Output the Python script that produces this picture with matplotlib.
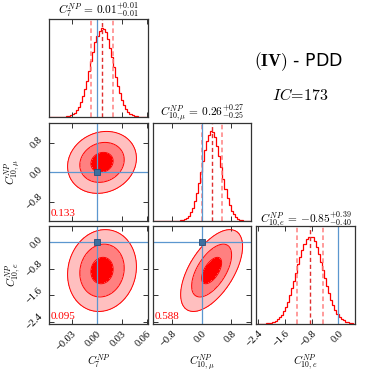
import numpy as np
import matplotlib
matplotlib.use("Agg")
import matplotlib.pyplot as plt

plt.rcParams['mathtext.fontset'] = 'cm'
plt.rcParams['font.family'] = ['Liberation Serif', 'DejaVu Serif']

# parameter names, medians and errors (from the titles)
names = [r"C_7^{NP}", r"C_{10,\mu}^{NP}", r"C_{10,e}^{NP}"]
medians = [0.0065, 0.265, -0.85]
err_up = [0.0135, 0.27, 0.39]
err_dn = [0.0130, 0.25, 0.40]
title_vals = ["0.01^{+0.01}_{-0.01}", "0.26^{+0.27}_{-0.25}", "{-}0.85^{+0.39}_{-0.40}"]
sigmas = [0.0133, 0.27, 0.40]
# correlations shown in the 2D panels: (row, col) -> rho
corr = {(1, 0): 0.133, (2, 0): 0.095, (2, 1): 0.588}

limits = [(-0.057, 0.0616), (-1.32, 1.33), (-2.47, 0.50)]
ticks = [[-0.03, 0.0, 0.03, 0.06], [-0.8, 0.0, 0.8], [-2.4, -1.6, -0.8, 0.0]]
tick_fmt = ["{:.2f}", "{:.1f}", "{:.1f}"]
hist_top = [1.10, 1.09, 1.12]

# histogram heights (normalised to peak), 48 bins spanning each axis range
h_c7 = [0.000, 0.000, 0.000, 0.000, 0.001, 0.001, 0.002, 0.004, 0.006, 0.011,
        0.019, 0.030, 0.050, 0.078, 0.115, 0.166, 0.232, 0.312, 0.408, 0.511,
        0.626, 0.728, 0.837, 0.912, 0.968, 1.000, 0.984, 0.952, 0.874, 0.780,
        0.673, 0.560, 0.452, 0.352, 0.265, 0.192, 0.135, 0.091, 0.059, 0.037,
        0.023, 0.013, 0.008, 0.004, 0.002, 0.001, 0.000, 0.000]
h_c10mu = [0.000, 0.000, 0.000, 0.000, 0.000, 0.000, 0.000, 0.000, 0.000, 0.000,
           0.001, 0.002, 0.004, 0.007, 0.012, 0.020, 0.036, 0.059, 0.095, 0.147,
           0.220, 0.310, 0.418, 0.542, 0.670, 0.792, 0.895, 0.960, 1.000, 0.985,
           0.931, 0.839, 0.724, 0.596, 0.470, 0.354, 0.256, 0.176, 0.115, 0.073,
           0.044, 0.025, 0.014, 0.007, 0.004, 0.002, 0.001, 0.000]
h_c10e = [0.000, 0.001, 0.001, 0.002, 0.004, 0.006, 0.010, 0.015, 0.024, 0.036,
          0.053, 0.076, 0.107, 0.146, 0.196, 0.256, 0.326, 0.406, 0.494, 0.587,
          0.681, 0.770, 0.851, 0.919, 0.967, 0.995, 0.990, 0.995, 0.950, 0.875,
          0.798, 0.711, 0.619, 0.525, 0.435, 0.352, 0.278, 0.214, 0.161, 0.119,
          0.085, 0.060, 0.041, 0.027, 0.018, 0.011, 0.007, 0.004]
hists = [h_c7, h_c10mu, h_c10e]

# contour levels in Mahalanobis distance
sig_levels = [1, 2, 3.1]
fill_cols = ['#ff0000', '#ff8080', '#ffbfbf']

W = 374.0
col_px = [(49, 148), (153, 251), (256, 355)]
row_px = [(19, 117), (123, 221), (226, 324)]

blue = '#5b97cf'
fig = plt.figure(figsize=(3.74, 3.74), dpi=100)


def rect(r, c):
    x0, x1 = col_px[c]
    y0, y1 = row_px[r]
    return [x0 / W, 1 - y1 / W, (x1 - x0) / W, (y1 - y0) / W]


def style(ax):
    for s in ax.spines.values():
        s.set_color('#333333')
        s.set_linewidth(0.9)
    ax.tick_params(direction='in', length=3.5, width=0.7, top=True, right=True,
                   labelsize=7.5, colors='#333333', labelcolor='black')


for r in range(3):
    for c in range(r + 1):
        ax = fig.add_axes(rect(r, c))
        style(ax)
        ax.set_xlim(limits[c])
        ax.set_xticks(ticks[c])
        if r == c:
            h = hists[c]
            edges = np.linspace(limits[c][0], limits[c][1], len(h) + 1)
            ax.stairs(h, edges, color='red', lw=0.9)
            ax.set_ylim(0, hist_top[c])
            ax.set_yticks([])
            ax.tick_params(right=False, left=False)
            m = medians[c]
            ax.axvline(m - err_dn[c], color='#ff8080', lw=1.1, ls=(0, (3, 2)))
            ax.axvline(m + err_up[c], color='#ff8080', lw=1.1, ls=(0, (3, 2)))
            ax.axvline(m, color='#e03030', lw=1.0, ls=(0, (3, 2)))
            ax.axvline(0.0, color=blue, lw=0.9)
            ax.set_title("$" + names[c] + r"\,=\," + title_vals[c] + "$",
                         fontsize=8.2, pad=2)
        else:
            ax.set_ylim(limits[r])
            ax.set_yticks(ticks[r])
            x = np.linspace(limits[c][0], limits[c][1], 300)
            y = np.linspace(limits[r][0], limits[r][1], 300)
            X, Y = np.meshgrid(x, y)
            rho = corr[(r, c)]
            u = (X - medians[c]) / sigmas[c]
            v = (Y - medians[r]) / sigmas[r]
            D2 = (u ** 2 - 2 * rho * u * v + v ** 2) / (1 - rho ** 2)
            lv = [0] + [s ** 2 for s in sig_levels]
            ax.contourf(X, Y, D2, levels=lv, colors=fill_cols)
            ax.contour(X, Y, D2, levels=lv[1:], colors='red', linewidths=0.7)
            ax.axvline(0.0, color=blue, lw=0.9)
            ax.axhline(0.0, color=blue, lw=0.9)
            ax.plot([0.0], [0.0], 's', ms=4.5, color='#3d6f9f', mec='#2a4f78', mew=0.6)
            ax.text(0.02, 0.03, "{:.3f}".format(rho), color='red', fontsize=8,
                    transform=ax.transAxes, ha='left', va='bottom')
            if c == 0:
                ax.set_yticklabels([tick_fmt[r].format(t).replace('-', '\u2212') for t in ticks[r]],
                                   rotation=45, va='center')
                ax.set_ylabel("$" + names[r] + "$", fontsize=8)
                ax.yaxis.set_label_coords(-0.27, 0.5)
            else:
                ax.set_yticklabels([])
        if r == 2:
            ax.set_xticklabels([tick_fmt[c].format(t).replace('-', '\u2212') for t in ticks[c]],
                               rotation=45, ha='right', va='top', rotation_mode='anchor')
            ax.set_xlabel("$" + names[c] + "$", fontsize=8)
            ax.xaxis.set_label_coords(0.5, -0.29)
        else:
            ax.set_xticklabels([])

fig.text(299 / W, 1 - 62 / W, r"$(\mathbf{IV})$" + " - PDD", fontsize=12.5,
         ha='center', va='center', family=['DejaVu Sans'])
fig.text(300 / W, 1 - 96 / W, r"$IC\!=\!173$", fontsize=11.5, ha='center', va='center')

fig.savefig("out.png", dpi=100)
